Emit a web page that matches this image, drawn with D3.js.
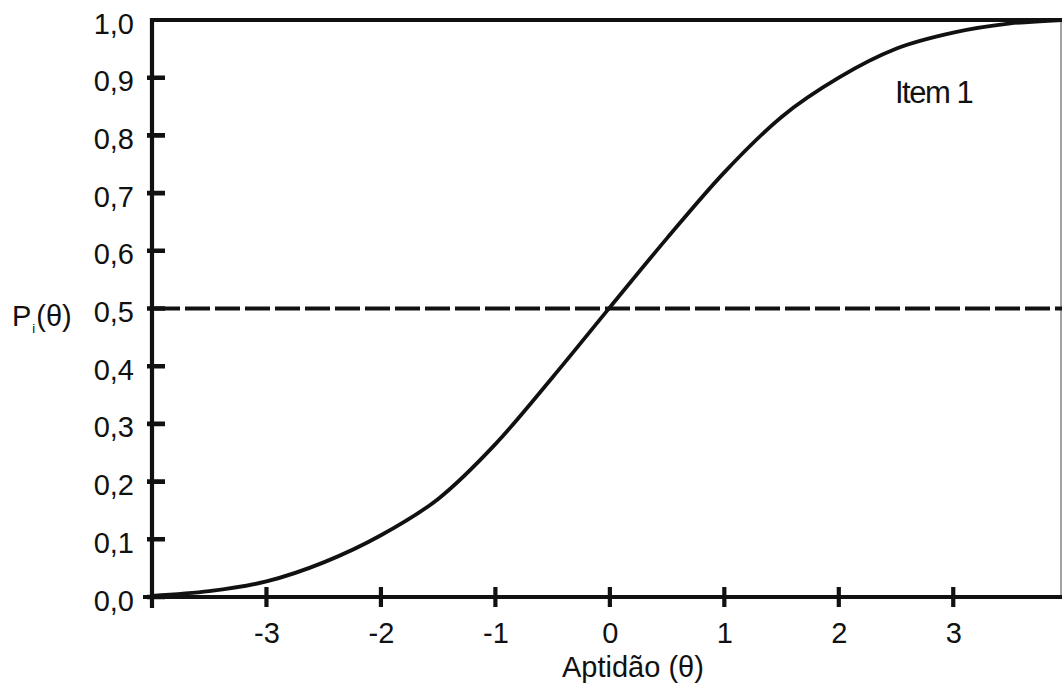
<!DOCTYPE html>
<html>
<head>
<meta charset="utf-8">
<script src="https://cdn.jsdelivr.net/npm/d3@7/dist/d3.min.js"></script>
<style>
  html, body { margin: 0; padding: 0; background: #fff; }
  svg { display: block; }
  text { font-family: "Liberation Sans", Arial, Helvetica, sans-serif; fill: #111; }
</style>
</head>
<body>
<svg id="chart" width="1063" height="688"></svg>
<script>
// Item characteristic curve: probability of a correct answer by ability level
const theta = [-4.0, -3.5, -3.0, -2.5, -2.0, -1.5, -1.0, -0.5, 0.0, 0.5, 1.0, 1.5, 2.0, 2.5, 3.0, 3.5, 3.95];
const prob  = [0.002, 0.010, 0.027, 0.060, 0.107, 0.170, 0.265, 0.381, 0.502, 0.622, 0.736, 0.832, 0.900, 0.950, 0.978, 0.994, 1.0];

const xTicks = [-3, -2, -1, 0, 1, 2, 3];
const yTicks = [0, 0.1, 0.2, 0.3, 0.4, 0.5, 0.6, 0.7, 0.8, 0.9, 1.0];
const referenceLevel = 0.5;
const itemLabel = "Item 1";
const xTitle = "Aptidão (θ)";

const svg = d3.select("#chart");
const x = d3.scaleLinear().domain([-4, 3.95]).range([152, 1062]);
const y = d3.scaleLinear().domain([0, 1]).range([597, 20]);
const fmt = v => d3.format(".1f")(v).replace(".", ",");
const ink = "#111";
const sw = 4.2;
const x0 = x(-4);

// frame: top line at P = 1 and a thin right edge
svg.append("line")
  .attr("x1", x0).attr("x2", x(3.95))
  .attr("y1", y(1)).attr("y2", y(1))
  .attr("stroke", ink).attr("stroke-width", sw);
svg.append("line")
  .attr("x1", x(3.95) - 1).attr("x2", x(3.95) - 1)
  .attr("y1", y(1)).attr("y2", y(0))
  .attr("stroke", "#666").attr("stroke-width", 1.2);

// dashed reference line at P = 0.5
svg.append("line")
  .attr("x1", x0 + 3).attr("x2", x(3.95))
  .attr("y1", y(referenceLevel)).attr("y2", y(referenceLevel))
  .attr("stroke", ink).attr("stroke-width", sw)
  .attr("stroke-dasharray", "25,5");

// x axis labels from d3.axisBottom
const xAxis = d3.axisBottom(x).tickValues(xTicks).tickSize(0).tickPadding(0)
  .tickFormat(d => d);
const gx = svg.append("g").attr("transform", `translate(0,${y(0)})`).call(xAxis);
gx.select(".domain").remove();
gx.selectAll(".tick line").remove();
gx.selectAll(".tick text").attr("y", 46).attr("dy", null)
  .attr("font-size", 29).attr("font-family", "Liberation Sans, Arial, sans-serif")
  .attr("fill", ink);

// y axis labels from d3.axisLeft
const yAxis = d3.axisLeft(y).tickValues(yTicks).tickSize(0).tickPadding(0)
  .tickFormat(fmt);
const gy = svg.append("g").attr("transform", `translate(${x0},0)`).call(yAxis);
gy.select(".domain").remove();
gy.selectAll(".tick line").remove();
gy.selectAll(".tick text").attr("x", -18).attr("dy", 13)
  .attr("font-size", 29).attr("font-family", "Liberation Sans, Arial, sans-serif")
  .attr("fill", ink);

// axis lines, crossing at the origin
svg.append("line")
  .attr("x1", x0 - 9).attr("x2", x(3.95))
  .attr("y1", y(0)).attr("y2", y(0))
  .attr("stroke", ink).attr("stroke-width", sw);
svg.append("line")
  .attr("x1", x0).attr("x2", x0)
  .attr("y1", y(1) - 2).attr("y2", y(0) + 11)
  .attr("stroke", ink).attr("stroke-width", sw);

// tick marks: x ticks cross the axis, y ticks point into the plot
const xTickPath = xTicks.map(d => `M${x(d)},${y(0) - 10}V${y(0) + 10}`).join("");
svg.append("path").attr("d", xTickPath)
  .attr("fill", "none").attr("stroke", ink).attr("stroke-width", sw);
const yTickPath = yTicks.filter(d => d < 1).map(d => `M${x0 - 5},${y(d)}H${x0 + 13}`).join("");
svg.append("path").attr("d", yTickPath)
  .attr("fill", "none").attr("stroke", ink).attr("stroke-width", 4.6);

// the curve
const line = d3.line()
  .x((d, i) => x(theta[i]))
  .y((d, i) => y(prob[i]))
  .curve(d3.curveMonotoneX);
svg.append("path")
  .datum(prob)
  .attr("d", line)
  .attr("fill", "none")
  .attr("stroke", ink)
  .attr("stroke-width", 3.8)
  .attr("stroke-linejoin", "round");

// labels
svg.append("text")
  .attr("x", 895).attr("y", 103)
  .attr("font-size", 31).attr("letter-spacing", -1.5)
  .text(itemLabel);

svg.append("text")
  .attr("x", 562).attr("y", 677)
  .attr("font-size", 29)
  .text(xTitle);

const yTitle = svg.append("text").attr("x", 12).attr("y", 326).attr("font-size", 29);
yTitle.append("tspan").text("P");
yTitle.append("tspan").attr("font-size", 13).attr("dy", 7).attr("dx", 1).text("i");
yTitle.append("tspan").attr("dy", -7).attr("dx", 1).text("(θ)");
</script>
</body>
</html>
